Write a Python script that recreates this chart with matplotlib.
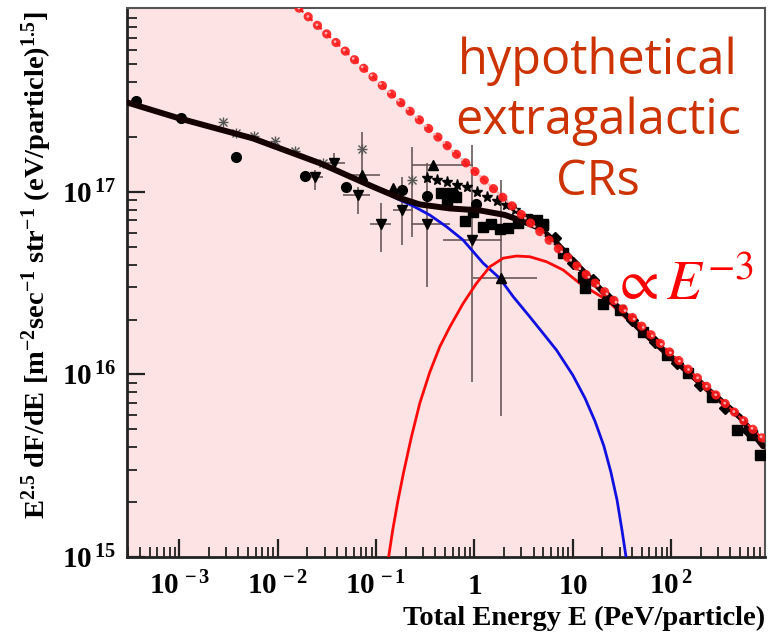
import matplotlib.pyplot as plt
import matplotlib.ticker as mticker
import numpy as np

plt.rcParams['mathtext.fontset'] = 'custom'
plt.rcParams['mathtext.rm'] = 'Liberation Serif:bold'
plt.rcParams['mathtext.bf'] = 'Liberation Serif:bold'
plt.rcParams['mathtext.it'] = 'Liberation Serif:bold:italic'

# energies in PeV, fluxes as E^2.5 dF/dE
xmin, xmax = 2.94e-4, 900.0
ymin, ymax = 1e15, 1.02e18

# total spectrum fit
total_E = [2.98e-4, 1.007e-3, 5.57e-3, 2.68e-2, 9.27e-2, 0.174, 0.279, 0.562, 1.135,
           2.04, 3.26, 4.63, 6.84, 10.1, 14.9, 22.2, 48.2, 104.5, 232, 501, 859]
total_F = [3.09e17, 2.53e17, 1.97e17, 1.44e17, 1.07e17, 9.27e16, 8.55e16, 8.13e16, 7.93e16,
           7.49e16, 6.85e16, 6.33e16, 5.24e16, 4.19e16, 3.38e16, 2.69e16, 1.77e16, 1.22e16,
           8.34e15, 5.85e15, 4.05e15]

# galactic component
gal_E = [0.0428, 9.27e-2, 0.161, 0.238, 0.352, 0.520, 0.767, 1.23, 1.81, 2.48, 3.66, 5.00,
         6.84, 10.0, 13.3, 16.8, 20.7, 24.4, 28.2, 31.6, 34.8, 36.4]
gal_F = [1.30e17, 1.07e17, 9.23e16, 8.38e16, 7.48e16, 6.46e16, 5.46e16, 4.07e16, 3.37e16,
         2.67e16, 2.07e16, 1.68e16, 1.36e16, 9.93e15, 7.43e15, 5.56e15, 4.06e15, 2.92e15,
         2.05e15, 1.41e15, 1.0e15, 8.5e14]

# extragalactic component
exg_E = [0.133, 0.148, 0.166, 0.191, 0.229, 0.279, 0.352, 0.445, 0.562, 0.767, 1.05, 1.44,
         1.96, 2.68, 3.66, 5.41, 7.98, 11.8, 22.1, 48.2, 104.5, 232, 501, 859]
exg_F = [9.64e14, 1.41e15, 2.00e15, 2.92e15, 4.55e15, 6.98e15, 1.03e16, 1.42e16, 1.82e16,
         2.45e16, 3.16e16, 3.90e16, 4.34e16, 4.46e16, 4.42e16, 4.15e16, 3.74e16, 3.16e16,
         2.56e16, 1.73e16, 1.19e16, 8.13e15, 5.78e15, 4.0e15]

# E^-3 reference line (end points)
ref_E = [0.0164, 900.0]
ref_F = [1.02e18, 4.35e15]

# measurements
circ_E = [3.6e-4, 1.03e-3, 3.8e-3, 1.88e-2, 5.0e-2, 0.185, 0.326, 0.617, 1.05]
circ_F = [3.16e17, 2.53e17, 1.55e17, 1.22e17, 1.06e17, 1.03e17, 9.5e16, 9.8e16, 8.6e16]

ast_E = [2.78e-3, 3.8e-3, 5.74e-3, 9.3e-3, 1.51e-2, 2.89e-2, 7.28e-2, 0.234]
ast_F = [2.41e17, 2.11e17, 2.03e17, 1.90e17, 1.67e17, 1.45e17, 1.73e17, 1.16e17]
ast_Flo = [2.41e17, 2.11e17, 2.03e17, 1.90e17, 1.67e17, 1.45e17, 1.27e17, 5.69e16]
ast_Fhi = [2.41e17, 2.11e17, 2.03e17, 1.90e17, 1.67e17, 1.45e17, 2.14e17, 1.77e17]

dtri_E = [0.0238, 0.0371, 0.0656, 0.1116, 0.1826, 0.333, 0.948]
dtri_F = [1.21e17, 1.44e17, 9.6e16, 6.7e16, 7.96e16, 6.65e16, 5.46e16]
dtri_Elo = [0.0188, 0.0278, 0.0458, 0.0863, 0.148, 0.229, 0.477]
dtri_Ehi = [0.0287, 0.0481, 0.0863, 0.1435, 0.236, 0.562, 1.888]
dtri_Flo = [1.03e17, 1.35e17, 7.6e16, 4.7e16, 5.1e16, 3.0e16, 9.1e15]
dtri_Fhi = [1.32e17, 1.64e17, 1.07e17, 8.7e16, 1.21e17, 1.44e17, 1.81e17]

utri_E = [0.0728, 0.149, 0.380, 1.857]
utri_F = [1.24e17, 1.05e17, 1.41e17, 3.36e16]
utri_Elo = [0.0458, 0.149, 0.234, 0.963]
utri_Ehi = [0.109, 0.149, 0.97, 4.31]
utri_Flo = [1.24e17, 1.05e17, 1.41e17, 5.9e15]
utri_Fhi = [1.24e17, 1.05e17, 1.41e17, 1.16e17]

star_E = [0.330, 0.418, 0.528, 0.673, 0.843, 1.065, 1.33, 1.68, 2.09, 2.58]
star_F = [1.19e17, 1.16e17, 1.13e17, 1.09e17, 1.06e17, 1.00e17, 9.4e16, 8.96e16, 8.5e16, 7.97e16]

sq_E = [0.463, 0.599, 0.647, 0.528, 0.97, 0.798, 1.21, 1.46, 1.81, 2.20, 2.78, 3.39, 4.28, 5.0,
        4.93, 7.98, 12.8, 13.3, 20.4, 30.1, 52.0, 90.0, 149, 258, 463, 659, 800]
sq_F = [9.84e16, 9.84e16, 9.43e16, 8.85e16, 7.8e16, 6.96e16, 6.46e16, 6.65e16, 6.27e16,
        6.37e16, 6.73e16, 7.08e16, 7.03e16, 6.59e16,
        6.68e16, 4.61e16, 3.44e16, 2.96e16, 2.43e16, 2.25e16, 1.72e16, 1.28e16, 1.02e16,
        7.55e15, 4.97e15, 4.66e15, 3.62e15]

tail_E = [6.58, 10.1, 16.1, 22.9, 39.6, 68.4, 114, 196, 352, 586]
tail_F = [5.57e16, 4.06e16, 3.30e16, 2.62e16, 1.99e16, 1.51e16, 1.15e16, 8.75e15, 6.53e15, 4.97e15]

pink = '#fde3e3'
bar_color = '#6a5858'

fig = plt.figure(figsize=(7.78, 6.33), dpi=100)
ax = fig.add_axes([0.1632, 0.1201, 0.8201, 0.8673])
ax.set_xscale('log')
ax.set_yscale('log')
ax.set_xlim(xmin, xmax)
ax.set_ylim(ymin, ymax)

# shaded region below the E^-3 line
ax.fill([xmin, xmin, ref_E[0], ref_E[1], xmax], [ymin, ymax, ref_F[0], ref_F[1], ymin],
        color=pink, lw=0, zorder=0)


def asym(v, lo, hi):
    v, lo, hi = np.array(v), np.array(lo), np.array(hi)
    return [v - lo, hi - v]


ax.errorbar(dtri_E, dtri_F, xerr=asym(dtri_E, dtri_Elo, dtri_Ehi),
            yerr=asym(dtri_F, dtri_Flo, dtri_Fhi), fmt='none', ecolor=bar_color,
            elinewidth=1.2, capsize=0, zorder=2)
ax.errorbar(utri_E, utri_F, xerr=asym(utri_E, utri_Elo, utri_Ehi),
            yerr=asym(utri_F, utri_Flo, utri_Fhi), fmt='none', ecolor=bar_color,
            elinewidth=1.2, capsize=0, zorder=2)
ax.errorbar(ast_E, ast_F, yerr=asym(ast_F, ast_Flo, ast_Fhi), fmt='none',
            ecolor=bar_color, elinewidth=1.2, capsize=0, zorder=2)

# model curves
ax.plot(gal_E, gal_F, color='#1010e0', lw=2.0, zorder=3)
ax.plot(exg_E, exg_F, color='#ff0a0a', lw=2.0, zorder=3)

ax.plot(circ_E, circ_F, 'o', color='black', ms=7, zorder=4)
ax.plot(ast_E, ast_F, '+', color='#555555', ms=7, mew=1, zorder=4)
ax.plot(ast_E, ast_F, 'x', color='#555555', ms=6, mew=1, zorder=4)
ax.plot(dtri_E, dtri_F, 'v', color='black', ms=7, zorder=4)
ax.plot(utri_E, utri_F, '^', color='black', ms=7, zorder=4)
ax.plot(star_E, star_F, '*', color='black', ms=8, zorder=4)
ax.plot(sq_E, sq_F, 's', color='black', ms=6.5, zorder=4)
ax.plot(tail_E, tail_F, 'D', color='black', ms=6, zorder=4)

ax.plot(total_E, total_F, color='#140000', lw=4.3, solid_capstyle='round', zorder=5)

# E^-3 reference: thin dashed line with a chain of red dots
ax.plot(ref_E, ref_F, color='#ff2020', lw=1.5, ls=(0, (3, 3)), zorder=6)
ax.plot(ref_E, ref_F, color='#ff1a1a', lw=6.5, ls=(0, (0.05, 1.35)),
        dash_capstyle='round', alpha=0.9, zorder=6)
ax.plot(ref_E, ref_F, color='#ffb0b0', lw=2.0, ls=(0, (0.05, 4.4)),
        dash_capstyle='round', zorder=7)

ax.text(0.738, 0.793, 'hypothetical\nextragalactic\nCRs', transform=ax.transAxes,
        ha='center', va='center', fontsize=35, color='#cc3300', family='Open Sans',
        linespacing=1.3)
ax.text(0.87, 0.497, r'$\propto E^{-3}$', transform=ax.transAxes, ha='center',
        va='center', fontsize=41, color='#ff0000', math_fontfamily='stix')

# axes styling
for side in ['left', 'bottom']:
    ax.spines[side].set_linewidth(2.0)
    ax.spines[side].set_color('#222222')
for side in ['top', 'right']:
    ax.spines[side].set_linewidth(1.5)
    ax.spines[side].set_color('#555555')

ax.xaxis.set_major_locator(mticker.LogLocator(base=10, numticks=20))
ax.xaxis.set_minor_locator(mticker.LogLocator(base=10, subs=np.arange(2, 10), numticks=20))
ax.yaxis.set_major_locator(mticker.LogLocator(base=10, numticks=20))
ax.yaxis.set_minor_locator(mticker.LogLocator(base=10, subs=np.arange(2, 10), numticks=20))
ax.xaxis.set_minor_formatter(mticker.NullFormatter())
ax.yaxis.set_minor_formatter(mticker.NullFormatter())

xticks = [1e-3, 1e-2, 1e-1, 1, 10, 100]
xlabels = [r'$10^{\,-3}$', r'$10^{\,-2}$', r'$10^{\,-1}$', r'$1$', r'$10$', r'$10^{\,2}$']
ax.set_xticks(xticks)
ax.set_xticklabels(xlabels)
yticks = [1e15, 1e16, 1e17]
ylabels = [r'$10^{\,15}$', r'$10^{\,16}$', r'$10^{\,17}$']
ax.set_yticks(yticks)
ax.set_yticklabels(ylabels)

ax.tick_params(which='both', direction='in', top=False, right=False, color='#222222')
ax.tick_params(which='major', length=13, width=1.6, labelsize=21)
ax.tick_params(which='minor', length=7, width=1.3)
ax.tick_params(axis='x', which='major', pad=11)
ax.tick_params(axis='y', which='major', pad=8)

ax.set_xlabel('Total Energy E (PeV/particle)', family='Liberation Serif', weight='bold',
              fontsize=20.5)
ax.xaxis.set_label_coords(1.0, -0.112)
ax.xaxis.label.set_ha('right')
ax.xaxis.label.set_va('center')
ax.set_ylabel(r'E$^{2.5}$ dF/dE [m$^{-2}$sec$^{-1}$ str$^{-1}$ (eV/particle)$^{1.5}$]',
              family='Liberation Serif', weight='bold', fontsize=20.5)
ax.yaxis.set_label_coords(-0.115, 0.532)

fig.savefig('out.png', dpi=100)
